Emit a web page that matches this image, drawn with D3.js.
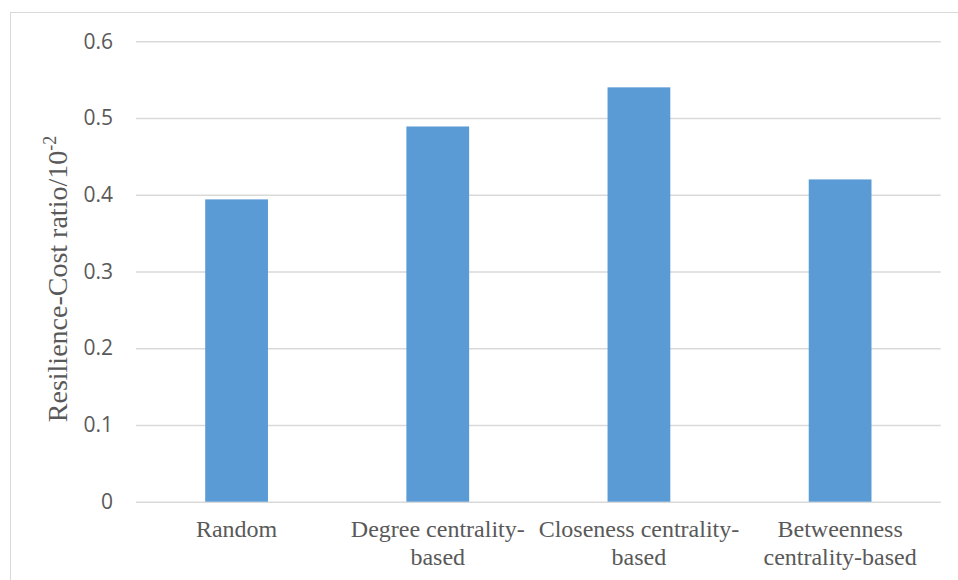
<!DOCTYPE html>
<html>
<head>
<meta charset="utf-8">
<script src="https://cdn.jsdelivr.net/npm/d3@7"></script>
<style>
  html, body { margin: 0; padding: 0; background: #fff; }
  svg { display: block; }
</style>
</head>
<body>
<svg id="chart" width="958" height="580"></svg>
<script>
const categories = ["Random", "Degree centrality-based", "Closeness centrality-based", "Betweenness centrality-based"];
const categoryLines = [["Random"], ["Degree centrality-", "based"], ["Closeness centrality-", "based"], ["Betweenness", "centrality-based"]];
const values = [0.394, 0.489, 0.540, 0.420];
const yTicks = [0, 0.1, 0.2, 0.3, 0.4, 0.5, 0.6];
const yTickLabels = ["0", "0.1", "0.2", "0.3", "0.4", "0.5", "0.6"];
const yTitle = "Resilience-Cost ratio/10";
const yTitleSup = "-2";

const svg = d3.select("#chart");
const W = 958, H = 580;
const margin = { left: 136, right: 17.3, top: 41.3, bottom: 78.3 };
const innerW = W - margin.left - margin.right;
const innerH = H - margin.top - margin.bottom;

// outer chart border (extends beyond the visible right / bottom)
svg.append("rect")
  .attr("x", 10.5).attr("y", 12.5)
  .attr("width", 960).attr("height", 600)
  .attr("fill", "none").attr("stroke", "#d9d9d9").attr("stroke-width", 1);

const g = svg.append("g").attr("transform", `translate(${margin.left},${margin.top})`);

const x = d3.scaleBand().domain(categories).range([0, innerW])
  .paddingInner(0.688).paddingOuter(0.344);
const y = d3.scaleLinear().domain([0, 0.6]).range([innerH, 0]);

// gridlines via axis
const yGrid = d3.axisLeft(y).tickValues(yTicks).tickSize(-innerW).tickFormat("");
const gg = g.append("g").call(yGrid);
gg.select(".domain").remove();
gg.selectAll(".tick line").attr("stroke", "#d9d9d9").attr("stroke-width", 1.5);

// bars
g.selectAll("rect.bar").data(values).join("rect")
  .attr("class", "bar")
  .attr("x", (d, i) => x(categories[i]))
  .attr("width", x.bandwidth())
  .attr("y", d => y(d))
  .attr("height", d => y(0) - y(d))
  .attr("fill", "#5b9bd5");

// y tick labels
const yAxis = d3.axisLeft(y).tickValues(yTicks).tickSize(0).tickPadding(23)
  .tickFormat((d, i) => yTickLabels[i]);
const ya = g.append("g").call(yAxis);
ya.select(".domain").remove();
ya.selectAll(".tick text")
  .attr("fill", "#595959")
  .style("font-family", "'Open Sans', 'Liberation Sans', sans-serif")
  .style("font-size", "21px");

// x category labels
const xAxis = d3.axisBottom(x).tickSize(0).tickFormat("");
const xa = g.append("g").attr("transform", `translate(0,${innerH})`).call(xAxis);
xa.select(".domain").remove();
xa.selectAll(".tick").each(function(d, i) {
  const t = d3.select(this).append("text")
    .attr("fill", "#595959")
    .attr("text-anchor", "middle")
    .style("font-family", "'Liberation Serif', 'Times New Roman', serif")
    .style("font-size", "24px");
  categoryLines[i].forEach((line, j) => {
    t.append("tspan").attr("x", 0).attr("y", 35 + j * 28.5).text(line);
  });
});

// y axis title
const title = svg.append("text")
  .attr("transform", "translate(67,279) rotate(-90)")
  .attr("text-anchor", "middle")
  .attr("fill", "#595959")
  .style("font-family", "'Liberation Serif', 'Times New Roman', serif")
  .style("font-size", "28px");
title.append("tspan").text(yTitle);
title.append("tspan").attr("dy", -11).style("font-size", "18px").text(yTitleSup);
</script>
</body>
</html>
